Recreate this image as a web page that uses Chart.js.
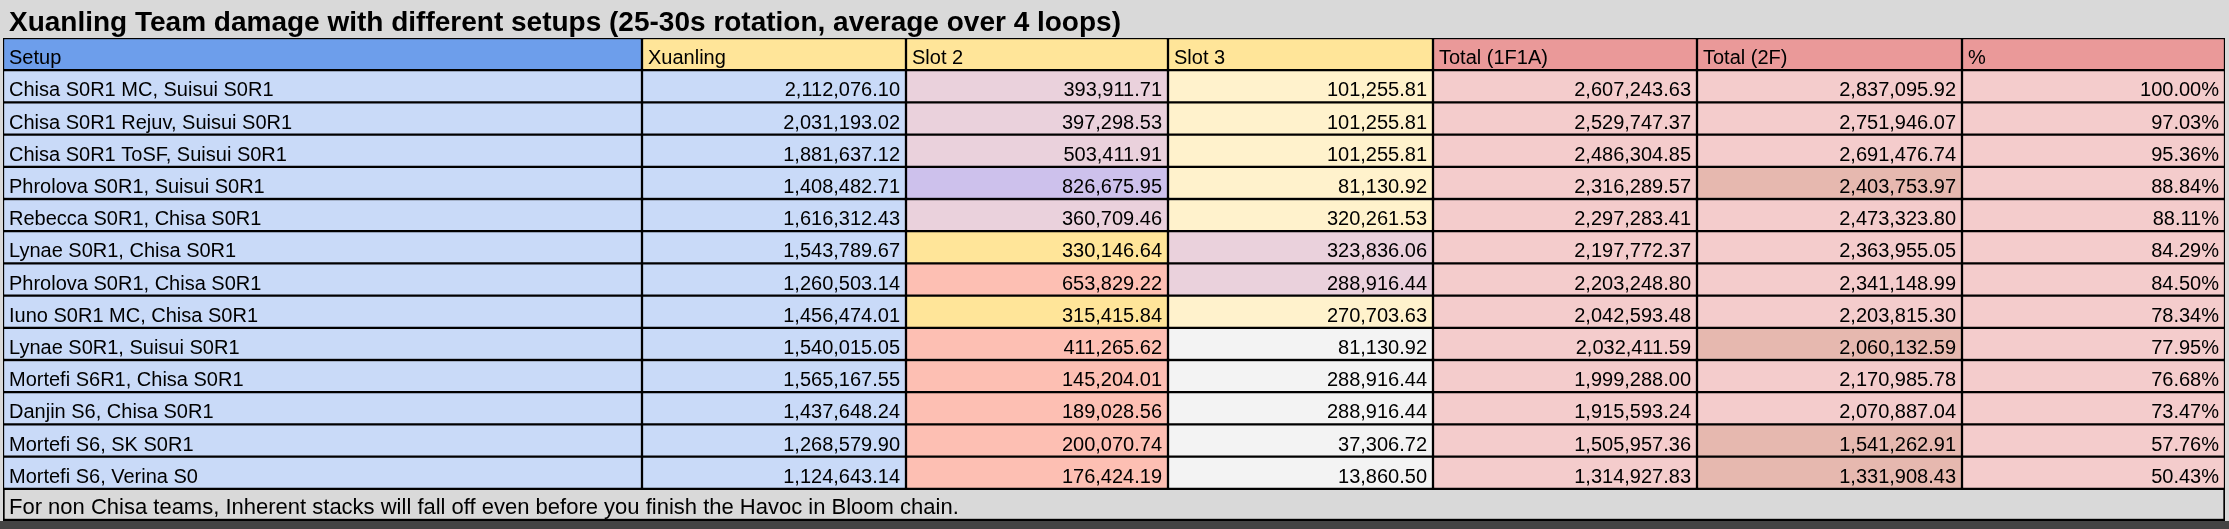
<!DOCTYPE html>
<html>
<head>
<meta charset="utf-8">
<title>Xuanling Team damage</title>
<script src="https://cdn.jsdelivr.net/npm/chart.js@4.4.1/dist/chart.umd.min.js"></script>
<style>
  html, body { margin: 0; padding: 0; background: #d9d9d9; }
  #wrap { width: 2229px; height: 529px; }
</style>
</head>
<body>
<div id="wrap"><canvas id="tableChart" width="2229" height="529"></canvas></div>
<script>
// ------------------ DONNÉES ------------------
const titleText = 'Xuanling Team damage with different setups (25-30s rotation, average over 4 loops)';
const footerText = 'For non Chisa teams, Inherent stacks will fall off even before you finish the Havoc in Bloom chain.';
const headers = ['Setup', 'Xuanling', 'Slot 2', 'Slot 3', 'Total (1F1A)', 'Total (2F)', '%'];

const setups = [
    'Chisa S0R1 MC, Suisui S0R1',
    'Chisa S0R1 Rejuv, Suisui S0R1',
    'Chisa S0R1 ToSF, Suisui S0R1',
    'Phrolova S0R1, Suisui S0R1',
    'Rebecca S0R1, Chisa S0R1',
    'Lynae S0R1, Chisa S0R1',
    'Phrolova S0R1, Chisa S0R1',
    'Iuno S0R1 MC, Chisa S0R1',
    'Lynae S0R1, Suisui S0R1',
    'Mortefi S6R1, Chisa S0R1',
    'Danjin S6, Chisa S0R1',
    'Mortefi S6, SK S0R1',
    'Mortefi S6, Verina S0'
];
const xuanling = [2112076.10, 2031193.02, 1881637.12, 1408482.71, 1616312.43, 1543789.67, 1260503.14, 1456474.01, 1540015.05, 1565167.55, 1437648.24, 1268579.90, 1124643.14];
const slot2 = [393911.71, 397298.53, 503411.91, 826675.95, 360709.46, 330146.64, 653829.22, 315415.84, 411265.62, 145204.01, 189028.56, 200070.74, 176424.19];
const slot3 = [101255.81, 101255.81, 101255.81, 81130.92, 320261.53, 323836.06, 288916.44, 270703.63, 81130.92, 288916.44, 288916.44, 37306.72, 13860.50];
const total1F1A = [2607243.63, 2529747.37, 2486304.85, 2316289.57, 2297283.41, 2197772.37, 2203248.80, 2042593.48, 2032411.59, 1999288.00, 1915593.24, 1505957.36, 1314927.83];
const total2F = [2837095.92, 2751946.07, 2691476.74, 2403753.97, 2473323.80, 2363955.05, 2341148.99, 2203815.30, 2060132.59, 2170985.78, 2070887.04, 1541262.91, 1331908.43];
const pct = [100.00, 97.03, 95.36, 88.84, 88.11, 84.29, 84.50, 78.34, 77.95, 76.68, 73.47, 57.76, 50.43];

// ------------------ COULEURS ------------------
const headerColors = ['#6d9eeb', '#ffe599', '#ffe599', '#ffe599', '#ea9999', '#ea9999', '#ea9999'];
const blue = '#c9daf8', pink = '#ead1dc', lilac = '#cdc1ec', yellow = '#ffe599', salmon = '#fdbfb3';
const cream = '#fff2cc', grey = '#f3f3f3', rose = '#f4cccc', berry = '#e6b8af';
const slot2Colors = [pink, pink, pink, lilac, pink, yellow, salmon, yellow, salmon, salmon, salmon, salmon, salmon];
const slot3Colors = [cream, cream, cream, cream, cream, pink, pink, cream, grey, grey, grey, grey, grey];
const total2FColors = [rose, rose, rose, berry, rose, rose, rose, rose, berry, rose, rose, berry, berry];

// ------------------ MISE EN PAGE ------------------
const colEdges = [0, 639, 903, 1165, 1430, 1694, 1959, 2222];
const fontFamily = '"Liberation Sans", Arial, sans-serif';

const columns = [
    { values: setups, colors: setups.map(() => blue), fmt: v => v, align: 'left' },
    { values: xuanling, colors: xuanling.map(() => blue), fmt: money, align: 'right' },
    { values: slot2, colors: slot2Colors, fmt: money, align: 'right' },
    { values: slot3, colors: slot3Colors, fmt: money, align: 'right' },
    { values: total1F1A, colors: total1F1A.map(() => rose), fmt: money, align: 'right' },
    { values: total2F, colors: total2FColors, fmt: money, align: 'right' },
    { values: pct, colors: pct.map(() => rose), fmt: v => v.toFixed(2) + '%', align: 'right' }
];

function money(v) {
    return v.toLocaleString('en-US', { minimumFractionDigits: 2, maximumFractionDigits: 2 });
}

const rowLabels = ['header', ...setups, 'footer'];
const lastRow = rowLabels.length - 1;

// Une série par colonne : chaque cellule est une barre flottante [début, fin]
const datasets = columns.map((col, c) => ({
    label: headers[c],
    data: rowLabels.map((_, i) => i === lastRow ? null : [colEdges[c], colEdges[c + 1]]),
    backgroundColor: rowLabels.map((_, i) => i === 0 ? headerColors[c] : (i === lastRow ? null : col.colors[i - 1])),
    borderColor: '#000',
    borderWidth: 1.5,
    borderSkipped: false
}));
datasets.push({
    label: 'footer',
    data: rowLabels.map((_, i) => i === lastRow ? [colEdges[0], colEdges[colEdges.length - 1]] : null),
    backgroundColor: '#d9d9d9',
    borderColor: '#000',
    borderWidth: { top: 1.5, left: 2, right: 2, bottom: 2.5 },
    borderSkipped: false
});

// ------------------ TEXTE DES CELLULES ------------------
const tableText = {
    id: 'tableText',
    beforeDraw(chart) {
        const ctx = chart.ctx;
        ctx.save();
        ctx.fillStyle = '#d9d9d9';
        ctx.fillRect(0, 0, chart.width, chart.height);
        ctx.fillStyle = '#444';
        ctx.fillRect(0, chart.chartArea.bottom, chart.width, chart.height - chart.chartArea.bottom);
        ctx.restore();
    },
    afterDatasetsDraw(chart) {
        const ctx = chart.ctx;
        ctx.save();
        ctx.fillStyle = '#000';
        ctx.textBaseline = 'alphabetic';

        // Titre
        ctx.font = 'bold 28px ' + fontFamily;
        ctx.textAlign = 'left';
        ctx.fillText(titleText, chart.chartArea.left + 6, chart.chartArea.top - 7);

        ctx.font = '20px ' + fontFamily;
        columns.forEach((col, c) => {
            chart.getDatasetMeta(c).data.forEach((bar, i) => {
                if (i === lastRow) return;
                const p = bar.getProps(['x', 'y', 'base', 'height'], true);
                const left = Math.min(p.x, p.base);
                const right = Math.max(p.x, p.base);
                const baseline = p.y + p.height / 2 - 6;
                if (i === 0) {
                    ctx.textAlign = 'left';
                    ctx.fillText(headers[c], left + 6, baseline);
                } else if (col.align === 'left') {
                    ctx.textAlign = 'left';
                    ctx.fillText(col.fmt(col.values[i - 1]), left + 6, baseline);
                } else {
                    ctx.textAlign = 'right';
                    ctx.fillText(col.fmt(col.values[i - 1]), right - 6, baseline);
                }
            });
        });

        // Pied de tableau
        const fbar = chart.getDatasetMeta(columns.length).data[lastRow];
        const fp = fbar.getProps(['x', 'y', 'base', 'height'], true);
        ctx.font = '22px ' + fontFamily;
        ctx.textAlign = 'left';
        ctx.fillText(footerText, Math.min(fp.x, fp.base) + 6, fp.y + fp.height / 2 - 7);
        ctx.restore();
    }
};

new Chart(document.getElementById('tableChart'), {
    type: 'bar',
    data: { labels: rowLabels, datasets: datasets },
    options: {
        indexAxis: 'y',
        responsive: false,
        devicePixelRatio: 1,
        animation: false,
        datasets: { bar: { grouped: false, barPercentage: 1, categoryPercentage: 1 } },
        layout: { padding: { left: 3, right: 4, top: 38, bottom: 8 } },
        scales: {
            x: { type: 'linear', display: false, min: colEdges[0], max: colEdges[colEdges.length - 1] },
            y: { type: 'category', display: false, offset: true }
        },
        plugins: {
            legend: { display: false },
            tooltip: { enabled: false },
            title: { display: false }
        }
    },
    plugins: [tableText]
});
</script>
</body>
</html>
